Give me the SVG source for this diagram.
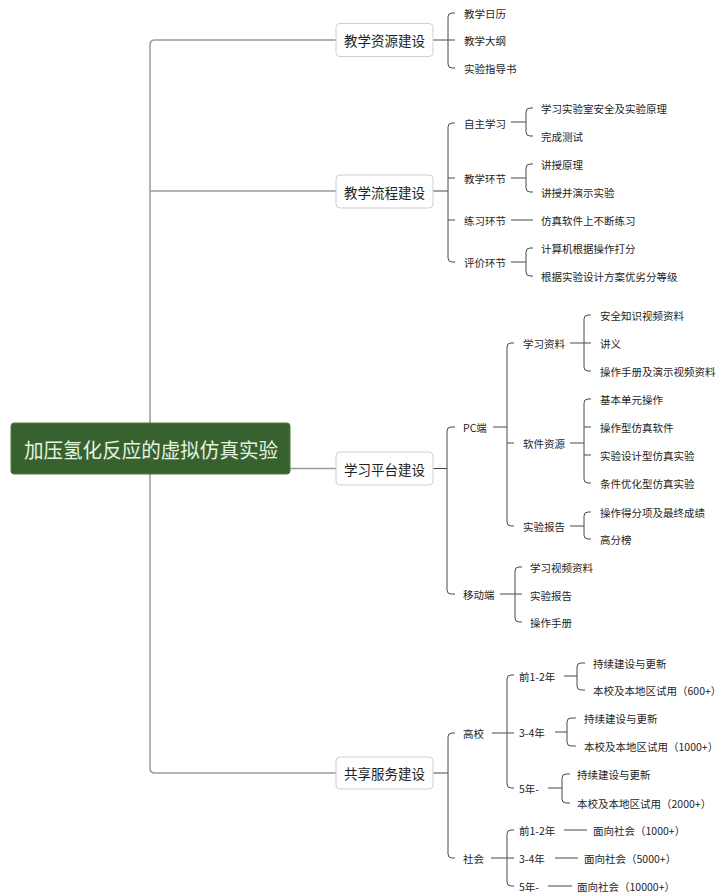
<svg xmlns="http://www.w3.org/2000/svg" width="726" height="896" viewBox="0 0 726 896">
<style>
  .t { font-family: "Noto Sans CJK SC", "Liberation Sans", sans-serif; font-size: 10.5px; fill: #1e1e1e; dominant-baseline: central; }
  .l1 { font-family: "Noto Sans CJK SC", "Liberation Sans", sans-serif; font-size: 13.5px; fill: #1e1e1e; dominant-baseline: central; text-anchor: middle; }
  .root { font-family: "Noto Sans CJK SC", "Liberation Sans", sans-serif; font-size: 20.5px; fill: #e6f3e0; dominant-baseline: central; text-anchor: middle; }
  .box { fill: #ffffff; stroke: #cfcfcf; stroke-width: 1; }
  .trunk { fill: none; stroke: #9a9a9a; stroke-width: 1.5; }
  .c { fill: none; stroke: #4a4a4a; stroke-width: 1; }
</style>
<rect width="726" height="896" fill="#ffffff"/>

<g id="connectors">
  <!-- trunk -->
  <path class="trunk" d="M336 40 H155 Q150 40 150 45 V768 Q150 773 155 773 H336"/>
  <path class="trunk" d="M150 191 H336"/>
  <path class="trunk" d="M290 468.5 H336"/>

  <!-- 教学资源建设 -->
  <path class="c" d="M433 40 H448"/>
  <path class="c" d="M455 13 H452 Q448 13 448 17 V64 Q448 68 452 68 H455 M448 40 H455"/>

  <!-- 教学流程建设 -->
  <path class="c" d="M433 191 H448"/>
  <path class="c" d="M455 123 H452 Q448 123 448 127 V258 Q448 262 452 262 H455 M448 178 H455 M448 220 H455"/>
  <path class="c" d="M511 122 H526"/>
  <path class="c" d="M533 108 H530 Q526 108 526 112 V132 Q526 136 530 136 H533"/>
  <path class="c" d="M511 178 H526"/>
  <path class="c" d="M533 164 H530 Q526 164 526 168 V188 Q526 192 530 192 H533"/>
  <path class="c" d="M511 220 H533"/>
  <path class="c" d="M511 262 H526"/>
  <path class="c" d="M533 248 H530 Q526 248 526 252 V272 Q526 276 530 276 H533"/>

  <!-- 学习平台建设 -->
  <path class="c" d="M433 468.5 H447"/>
  <path class="c" d="M455 427 H451 Q447 427 447 431 V590 Q447 594 451 594 H455"/>
  <path class="c" d="M493 427 H507"/>
  <path class="c" d="M514 343 H511 Q507 343 507 347 V522 Q507 526 511 526 H514 M507 443 H514"/>
  <path class="c" d="M570 343 H584"/>
  <path class="c" d="M591 315 H588 Q584 315 584 319 V367 Q584 371 588 371 H591 M584 343 H591"/>
  <path class="c" d="M570 443 H584"/>
  <path class="c" d="M591 399 H588 Q584 399 584 403 V479 Q584 483 588 483 H591 M584 427 H591 M584 455 H591"/>
  <path class="c" d="M570 526 H584"/>
  <path class="c" d="M591 512 H588 Q584 512 584 516 V535 Q584 539 588 539 H591"/>
  <path class="c" d="M500 594 H515"/>
  <path class="c" d="M522 567 H519 Q515 567 515 571 V618 Q515 622 519 622 H522 M515 594 H522"/>

  <!-- 共享服务建设 -->
  <path class="c" d="M433 773 H448"/>
  <path class="c" d="M455 733 H452 Q448 733 448 737 V854 Q448 858 452 858 H455"/>
  <path class="c" d="M492 733 H507"/>
  <path class="c" d="M514 675 H511 Q507 675 507 679 V784 Q507 788 511 788 H514 M507 733 H514"/>
  <path class="c" d="M564 676 H577"/>
  <path class="c" d="M585 663 H581 Q577 663 577 667 V686 Q577 690 581 690 H585"/>
  <path class="c" d="M555 732 H567"/>
  <path class="c" d="M576 718 H571 Q567 718 567 722 V742 Q567 746 571 746 H576"/>
  <path class="c" d="M548 788 H562"/>
  <path class="c" d="M570 774 H566 Q562 774 562 778 V799 Q562 803 566 803 H570"/>
  <path class="c" d="M491 858 H507"/>
  <path class="c" d="M514 830 H511 Q507 830 507 834 V882 Q507 886 511 886 H514 M507 858 H514"/>
  <path class="c" d="M564 830 H587"/>
  <path class="c" d="M555 858 H578"/>
  <path class="c" d="M548 886 H572"/>
</g>

<g id="root">
  <rect x="11" y="423" width="279" height="51" rx="3" fill="#37622f" stroke="#4f7a45" stroke-width="1"/>
  <text class="root" x="151" y="448.5" textLength="254" lengthAdjust="spacingAndGlyphs">加压氢化反应的虚拟仿真实验</text>
</g>

<g id="n-resource">
  <rect class="box" x="336" y="23.5" width="97" height="33" rx="4"/>
  <text class="l1" x="384.5" y="40">教学资源建设</text>
  <text class="t" x="464" y="13">教学日历</text>
  <text class="t" x="464" y="40">教学大纲</text>
  <text class="t" x="464" y="68">实验指导书</text>
</g>

<g id="n-process">
  <rect class="box" x="336" y="175" width="97" height="33" rx="4"/>
  <text class="l1" x="384.5" y="191.5">教学流程建设</text>
  <text class="t" x="464" y="123">自主学习</text>
  <text class="t" x="541" y="108">学习实验室安全及实验原理</text>
  <text class="t" x="541" y="136">完成测试</text>
  <text class="t" x="464" y="178">教学环节</text>
  <text class="t" x="541" y="164">讲授原理</text>
  <text class="t" x="541" y="192">讲授并演示实验</text>
  <text class="t" x="464" y="220">练习环节</text>
  <text class="t" x="541" y="220">仿真软件上不断练习</text>
  <text class="t" x="464" y="262">评价环节</text>
  <text class="t" x="541" y="248">计算机根据操作打分</text>
  <text class="t" x="541" y="276">根据实验设计方案优劣分等级</text>
</g>

<g id="n-platform">
  <rect class="box" x="336" y="452" width="97" height="33" rx="4"/>
  <text class="l1" x="384.5" y="468.5">学习平台建设</text>
  <text class="t" x="463" y="427">PC端</text>
  <text class="t" x="523" y="343">学习资料</text>
  <text class="t" x="600" y="315">安全知识视频资料</text>
  <text class="t" x="600" y="343">讲义</text>
  <text class="t" x="600" y="371">操作手册及演示视频资料</text>
  <text class="t" x="523" y="443">软件资源</text>
  <text class="t" x="600" y="399">基本单元操作</text>
  <text class="t" x="600" y="427">操作型仿真软件</text>
  <text class="t" x="600" y="455">实验设计型仿真实验</text>
  <text class="t" x="600" y="483">条件优化型仿真实验</text>
  <text class="t" x="523" y="526">实验报告</text>
  <text class="t" x="600" y="512">操作得分项及最终成绩</text>
  <text class="t" x="600" y="539">高分榜</text>
  <text class="t" x="463" y="594">移动端</text>
  <text class="t" x="530" y="567">学习视频资料</text>
  <text class="t" x="530" y="595">实验报告</text>
  <text class="t" x="530" y="622">操作手册</text>
</g>

<g id="n-share">
  <rect class="box" x="336" y="757" width="97" height="32" rx="4"/>
  <text class="l1" x="384.5" y="773">共享服务建设</text>
  <text class="t" x="463" y="733">高校</text>
  <text class="t" x="519" y="676">前1-2年</text>
  <text class="t" x="593" y="663">持续建设与更新</text>
  <text class="t" x="593" y="690">本校及本地区试用（600+）</text>
  <text class="t" x="519" y="732">3-4年</text>
  <text class="t" x="584" y="718">持续建设与更新</text>
  <text class="t" x="584" y="746">本校及本地区试用（1000+）</text>
  <text class="t" x="519" y="788">5年-</text>
  <text class="t" x="577" y="774">持续建设与更新</text>
  <text class="t" x="577" y="803">本校及本地区试用（2000+）</text>
  <text class="t" x="463" y="858">社会</text>
  <text class="t" x="519" y="830">前1-2年</text>
  <text class="t" x="593" y="830">面向社会（1000+）</text>
  <text class="t" x="519" y="858">3-4年</text>
  <text class="t" x="584" y="858">面向社会（5000+）</text>
  <text class="t" x="519" y="886">5年-</text>
  <text class="t" x="577" y="886">面向社会（10000+）</text>
</g>
</svg>
